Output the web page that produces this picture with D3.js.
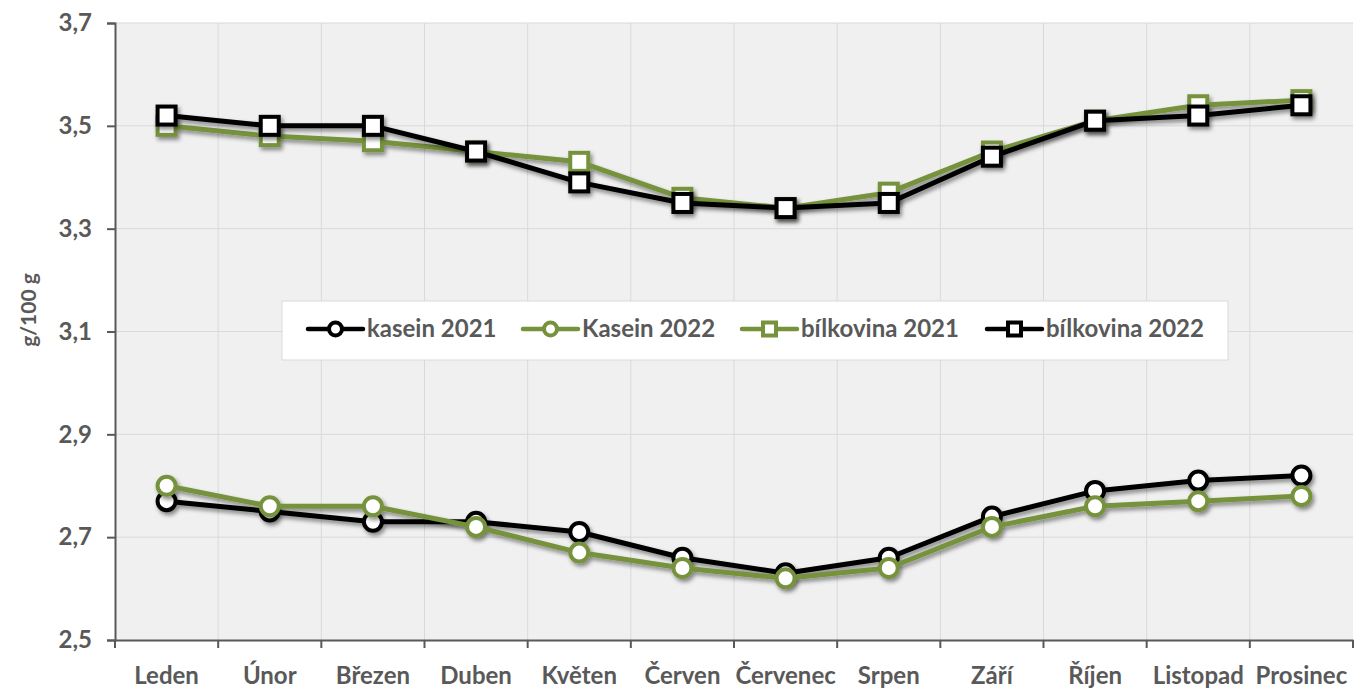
<!DOCTYPE html>
<html>
<head>
<meta charset="utf-8">
<script src="https://cdn.jsdelivr.net/npm/d3@7"></script>
<style>
  body { margin: 0; background: #fff; }
  text { font-family: Lato, "Open Sans", sans-serif; font-weight: bold; fill: #595959; }
</style>
</head>
<body>
<div id="chart"></div>
<script>
var months = ['Leden', 'Únor', 'Březen', 'Duben', 'Květen', 'Červen', 'Červenec', 'Srpen', 'Září', 'Říjen', 'Listopad', 'Prosinec'];

var kasein2021 = [2.77, 2.75, 2.73, 2.73, 2.71, 2.66, 2.63, 2.66, 2.74, 2.79, 2.81, 2.82];
var kasein2022 = [2.80, 2.76, 2.76, 2.72, 2.67, 2.64, 2.62, 2.64, 2.72, 2.76, 2.77, 2.78];
var bilkovina2021 = [3.50, 3.48, 3.47, 3.45, 3.43, 3.36, 3.34, 3.37, 3.45, 3.51, 3.54, 3.55];
var bilkovina2022 = [3.52, 3.50, 3.50, 3.45, 3.39, 3.35, 3.34, 3.35, 3.44, 3.51, 3.52, 3.54];

var yTicks = [2.5, 2.7, 2.9, 3.1, 3.3, 3.5, 3.7];

var green = '#76923c', black = '#000000';

var series = [
    { name: 'kasein 2021', values: kasein2021, color: black, shape: 'circle' },
    { name: 'Kasein 2022', values: kasein2022, color: green, shape: 'circle' },
    { name: 'bílkovina 2021', values: bilkovina2021, color: green, shape: 'square' },
    { name: 'bílkovina 2022', values: bilkovina2022, color: black, shape: 'square' }
];

var W = 1354, H = 688;
var mLeft = 115, mRight = 1353, mTop = 23, mBottom = 640;

var svg = d3.select('#chart').append('svg')
    .attr('width', W)
    .attr('height', H);

var defs = svg.append('defs');
defs.append('filter')
    .attr('id', 'shadow')
    .attr('x', '-20%').attr('y', '-20%').attr('width', '140%').attr('height', '140%')
  .append('feDropShadow')
    .attr('dx', 2).attr('dy', 3)
    .attr('stdDeviation', 2)
    .attr('flood-color', '#000')
    .attr('flood-opacity', 0.45);

var x = d3.scaleBand().domain(months).range([mLeft, mRight]);
var y = d3.scaleLinear().domain([2.5, 3.7]).range([mBottom, mTop]);

// plot background
svg.append('rect')
    .attr('x', mLeft).attr('y', mTop)
    .attr('width', mRight - mLeft).attr('height', mBottom - mTop)
    .attr('fill', '#f0f0f0');

// gridlines
svg.append('g').selectAll('line')
    .data(yTicks.slice(1))
    .enter().append('line')
    .attr('x1', mLeft).attr('x2', mRight)
    .attr('y1', function(d){ return y(d); })
    .attr('y2', function(d){ return y(d); })
    .attr('stroke', '#d9d9d9').attr('stroke-width', 1);

svg.append('g').selectAll('line')
    .data(months.slice(1))
    .enter().append('line')
    .attr('x1', function(d){ return x(d); })
    .attr('x2', function(d){ return x(d); })
    .attr('y1', mTop).attr('y2', mBottom)
    .attr('stroke', '#d9d9d9').attr('stroke-width', 1);

// y axis
var yAxis = svg.append('g')
    .attr('transform', 'translate(' + mLeft + ',0)')
    .call(d3.axisLeft(y).tickValues(yTicks).tickSize(8).tickPadding(15)
        .tickFormat(function(d){ return d3.format('.1f')(d).replace('.', ','); }));
yAxis.select('.domain').attr('stroke', '#595959').attr('stroke-width', 2);
yAxis.selectAll('.tick line').attr('stroke', '#595959').attr('stroke-width', 2);
yAxis.selectAll('.tick text')
    .attr('font-size', 24).attr('fill', '#595959')
    .style('font-family', 'Lato, sans-serif').style('font-weight', 'bold');

// x axis
var xAxis = svg.append('g')
    .attr('transform', 'translate(0,' + mBottom + ')')
    .call(d3.axisBottom(x).tickSize(0).tickPadding(0).tickSizeOuter(0));
xAxis.select('.domain').attr('stroke', '#595959').attr('stroke-width', 2);
xAxis.selectAll('.tick text')
    .attr('y', 44).attr('dy', 0)
    .attr('font-size', 24).attr('fill', '#595959')
    .style('font-family', 'Lato, sans-serif').style('font-weight', 'bold');
xAxis.selectAll('line.sep')
    .data(months.concat(['end']))
    .enter().append('line')
    .attr('class', 'sep')
    .attr('x1', function(d, i){ return mLeft + i * x.bandwidth(); })
    .attr('x2', function(d, i){ return mLeft + i * x.bandwidth(); })
    .attr('y1', 0).attr('y2', 8)
    .attr('stroke', '#595959').attr('stroke-width', 2);

// y title
svg.append('text')
    .attr('transform', 'translate(36,310) rotate(-90)')
    .attr('text-anchor', 'middle')
    .attr('font-size', 21)
    .text('g/100 g');

// lines and markers
var line = d3.line()
    .x(function(d, i){ return x(months[i]) + x.bandwidth() / 2; })
    .y(function(d){ return y(d); });

function drawMarker(g, shape, color, cx, cy, r){
    if(shape === 'circle'){
        g.append('circle')
            .attr('cx', cx).attr('cy', cy).attr('r', r)
            .attr('fill', '#fff').attr('stroke', color).attr('stroke-width', 4);
    } else {
        g.append('rect')
            .attr('x', cx - r).attr('y', cy - r)
            .attr('width', 2 * r).attr('height', 2 * r)
            .attr('fill', '#fff').attr('stroke', color).attr('stroke-width', 4);
    }
}

series.forEach(function(s){
    var g = svg.append('g').attr('filter', 'url(#shadow)');
    g.append('path')
        .attr('d', line(s.values))
        .attr('fill', 'none')
        .attr('stroke', s.color)
        .attr('stroke-width', 5)
        .attr('stroke-linejoin', 'round');
    s.values.forEach(function(v, i){
        drawMarker(g, s.shape, s.color, x(months[i]) + x.bandwidth() / 2, y(v), 9);
    });
});

// legend
var legend = svg.append('g');
legend.append('rect')
    .attr('x', 282).attr('y', 301)
    .attr('width', 946).attr('height', 59)
    .attr('fill', '#fff')
    .attr('stroke', '#d9d9d9').attr('stroke-width', 1);

var legendX = [308, 523, 742, 987];
series.forEach(function(s, i){
    var lg = legend.append('g').attr('transform', 'translate(' + legendX[i] + ',329)');
    lg.append('line')
        .attr('x1', 0).attr('x2', 55)
        .attr('stroke', s.color).attr('stroke-width', 4.5)
        .attr('stroke-linecap', 'round');
    drawMarker(lg, s.shape, s.color, 27.5, 0, 6.5);
    lg.append('text')
        .attr('x', 59).attr('y', 8)
        .attr('font-size', 24)
        .text(s.name);
});
</script>
</body>
</html>
